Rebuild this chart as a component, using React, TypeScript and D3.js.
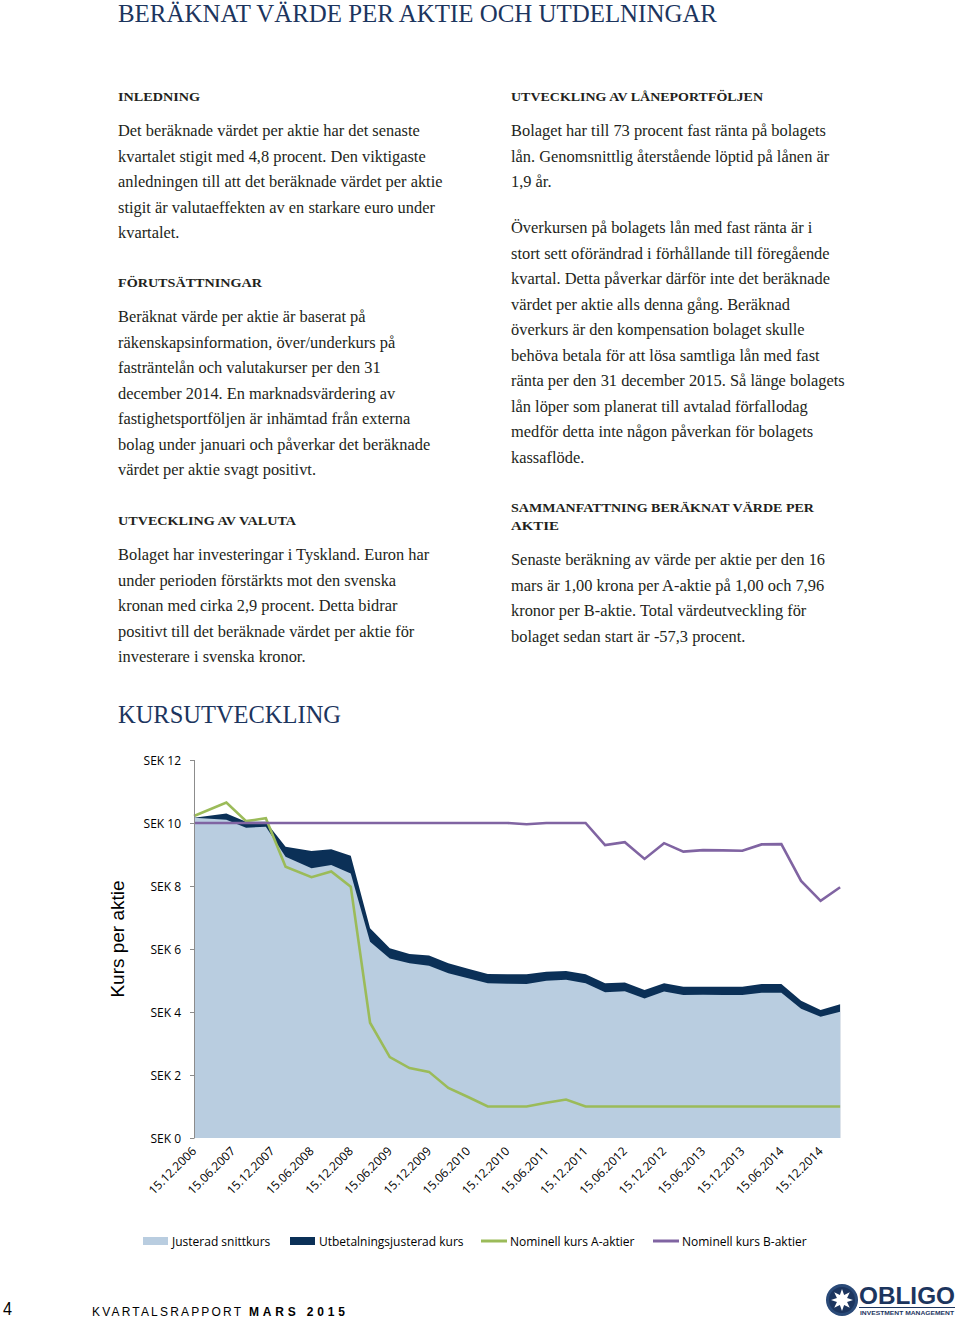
import React from "react";
import * as d3 from "d3";

// ---------- DATA ----------
const pointDates = [
  "2006-12-15", "2007-05-15", "2007-08-15", "2007-11-15", "2008-02-15",
  "2008-06-15", "2008-09-15", "2008-12-15", "2009-03-15", "2009-06-15",
  "2009-09-15", "2009-12-15", "2010-03-15", "2010-06-15", "2010-09-15",
  "2010-12-15", "2011-03-15", "2011-06-15", "2011-09-15", "2011-12-15",
  "2012-03-15", "2012-06-15", "2012-09-15", "2012-12-15", "2013-03-15",
  "2013-06-15", "2013-09-15", "2013-12-15", "2014-03-15", "2014-06-15",
  "2014-09-15", "2014-12-15", "2015-03-16",
];
const justeradSnittkurs = [
  10.17, 10.1, 9.85, 9.88, 8.93, 8.56, 8.67, 8.4, 6.23, 5.7,
  5.55, 5.47, 5.23, 5.07, 4.91, 4.9, 4.89, 4.99, 5.02, 4.91,
  4.63, 4.66, 4.43, 4.65, 4.54, 4.55, 4.54, 4.54, 4.61, 4.61,
  4.1, 3.85, 4.01,
];
const utbetalningsjusteradKurs = [
  10.17, 10.3, 10.04, 10.04, 9.25, 9.11, 9.17, 8.96, 6.66, 6.02,
  5.84, 5.79, 5.55, 5.37, 5.21, 5.2, 5.2, 5.28, 5.3, 5.2,
  4.91, 4.94, 4.7, 4.91, 4.8, 4.8, 4.8, 4.8, 4.89, 4.89,
  4.36, 4.06, 4.25,
];
const nominellA = [
  10.22, 10.65, 10.06, 10.15, 8.61, 8.28, 8.46, 7.98, 3.66, 2.57,
  2.22, 2.1, 1.59, 1.3, 1.0, 1.0, 1.0, 1.12, 1.22, 1.0,
  1.0, 1.0, 1.0, 1.0, 1.0, 1.0, 1.0, 1.0, 1.0, 1.0,
  1.0, 1.0, 1.0,
];
const nominellB = [
  10, 10, 10, 10, 10, 10, 10, 10, 10, 10,
  10, 10, 10, 10, 10, 10, 9.96, 10, 10, 10,
  9.3, 9.39, 8.86, 9.36, 9.09, 9.14, 9.13, 9.12, 9.32, 9.33,
  8.16, 7.53, 7.96,
];
const xTickLabels = [
  "15.12.2006", "15.06.2007", "15.12.2007", "15.06.2008", "15.12.2008",
  "15.06.2009", "15.12.2009", "15.06.2010", "15.12.2010", "15.06.2011",
  "15.12.2011", "15.06.2012", "15.12.2012", "15.06.2013", "15.12.2013",
  "15.06.2014", "15.12.2014",
];
const yTicks = [0, 2, 4, 6, 8, 10, 12];
const legendLabels = [
  "Justerad snittkurs",
  "Utbetalningsjusterad kurs",
  "Nominell kurs A-aktier",
  "Nominell kurs B-aktier",
];

const pageTitle = "BERÄKNAT VÄRDE PER AKTIE OCH UTDELNINGAR";
const chartTitle = "KURSUTVECKLING";
const yAxisTitle = "Kurs per aktie";

const leftColumn = [
  { heading: ["INLEDNING"], hy: 101, hw: [82], py: 136, lines: [
    "Det beräknade värdet per aktie har det senaste",
    "kvartalet stigit med 4,8 procent. Den viktigaste",
    "anledningen till att det beräknade värdet per aktie",
    "stigit är valutaeffekten av en starkare euro under",
    "kvartalet.",
  ] },
  { heading: ["FÖRUTSÄTTNINGAR"], hy: 287, hw: [144], py: 322, lines: [
    "Beräknat värde per aktie är baserat på",
    "räkenskapsinformation, över/underkurs på",
    "fasträntelån och valutakurser per den 31",
    "december 2014. En marknadsvärdering av",
    "fastighetsportföljen är inhämtad från externa",
    "bolag under januari och påverkar det beräknade",
    "värdet per aktie svagt positivt.",
  ] },
  { heading: ["UTVECKLING AV VALUTA"], hy: 525, hw: [178], py: 560, lines: [
    "Bolaget har investeringar i Tyskland. Euron har",
    "under perioden förstärkts mot den svenska",
    "kronan med cirka 2,9 procent. Detta bidrar",
    "positivt till det beräknade värdet per aktie för",
    "investerare i svenska kronor.",
  ] },
];
const rightColumn = [
  { heading: ["UTVECKLING AV LÅNEPORTFÖLJEN"], hy: 101, hw: [252], py: 136, lines: [
    "Bolaget har till 73 procent fast ränta på bolagets",
    "lån. Genomsnittlig återstående löptid på lånen är",
    "1,9 år.",
  ] },
  { heading: [], hy: 0, hw: [], py: 233, lines: [
    "Överkursen på bolagets lån med fast ränta är i",
    "stort sett oförändrad i förhållande till föregående",
    "kvartal. Detta påverkar därför inte det beräknade",
    "värdet per aktie alls denna gång. Beräknad",
    "överkurs är den kompensation bolaget skulle",
    "behöva betala för att lösa samtliga lån med fast",
    "ränta per den 31 december 2015. Så länge bolagets",
    "lån löper som planerat till avtalad förfallodag",
    "medför detta inte någon påverkan för bolagets",
    "kassaflöde.",
  ] },
  { heading: ["SAMMANFATTNING BERÄKNAT VÄRDE PER", "AKTIE"], hy: 512, hw: [303, 48], py: 565, lines: [
    "Senaste beräkning av värde per aktie per den 16",
    "mars är 1,00 krona per A-aktie på 1,00 och 7,96",
    "kronor per B-aktie. Total värdeutveckling för",
    "bolaget sedan start är -57,3 procent.",
  ] },
];

// ---------- STYLE ----------
const C = {
  light: "#b9cde0",
  dark: "#0b3057",
  green: "#9bbb59",
  purple: "#8064a2",
  navy: "#1c355e",
  text: "#231f20",
  axis: "#8c8c8c",
};
const serif = "'Liberation Serif', 'DejaVu Serif', serif";
const sans = "'Open Sans', 'Noto Sans', sans-serif";

const parseDate = d3.utcParse("%Y-%m-%d");
const parseTick = d3.utcParse("%d.%m.%Y");

function TextColumn({ x, blocks }: { x: number; blocks: any[] }) {
  return (
    <g>
      {blocks.map((b, bi) => (
        <g key={bi}>
          {b.heading.map((h: string, hi: number) => (
            <text key={"h" + hi} x={x} y={b.hy + hi * 18} fontFamily={serif} fontWeight="bold"
              fontSize={13.5} fill={C.text} textLength={b.hw[hi]} lengthAdjust="spacingAndGlyphs">
              {h}
            </text>
          ))}
          {b.lines.map((l: string, li: number) => (
            <text key={"l" + li} x={x} y={b.py + li * 25.5} fontFamily={serif} fontSize={16.4} fill={C.text}>
              {l}
            </text>
          ))}
        </g>
      ))}
    </g>
  );
}

export default function App() {
  const W = 960, H = 1318;
  const dates = pointDates.map((d) => parseDate(d) as Date);
  const tickDates = xTickLabels.map((d) => parseTick(d) as Date);

  const x = d3.scaleUtc().domain([tickDates[0], tickDates[tickDates.length - 1]]).range([194, 820.6]);
  const y = d3.scaleLinear().domain([0, 12]).range([1138, 760]);

  const area = (vals: number[]) =>
    d3.area<number>().x((_, i) => x(dates[i])).y0(y(0)).y1((v) => y(v))(vals) || "";
  const line = (vals: number[]) =>
    d3.line<number>().x((_, i) => x(dates[i])).y((v) => y(v))(vals) || "";

  const legendX = [143, 290, 481, 653];
  const legendY = 1241;

  // logo star
  const star = d3.range(16).map((i) => {
    const a = (i * Math.PI) / 8 - Math.PI / 2;
    const r = i % 2 === 0 ? 11 : 5.5;
    return [842 + r * Math.cos(a), 1300 + r * Math.sin(a)];
  });

  return (
    <svg width={W} height={H} style={{ position: "absolute", left: 0, top: 0, background: "#fff" }}>
      <rect width={W} height={H} fill="#fff" />
      {/* page title */}
      <text x={118} y={22} fontFamily={serif} fontSize={26} fill={C.navy} textLength={599} lengthAdjust="spacingAndGlyphs">
        {pageTitle}
      </text>

      <TextColumn x={118} blocks={leftColumn} />
      <TextColumn x={511} blocks={rightColumn} />

      {/* chart title */}
      <text x={118} y={723} fontFamily={serif} fontSize={25} fill={C.navy} textLength={223} lengthAdjust="spacingAndGlyphs">
        {chartTitle}
      </text>

      {/* areas */}
      <path d={area(utbetalningsjusteradKurs)} fill={C.dark} />
      <path d={area(justeradSnittkurs)} fill={C.light} />
      <path d={line(nominellA)} fill="none" stroke={C.green} strokeWidth={2.6} strokeLinejoin="miter" />
      <path d={line(nominellB)} fill="none" stroke={C.purple} strokeWidth={2.6} strokeLinejoin="miter" />

      {/* y axis */}
      <line x1={194.5} x2={194.5} y1={y(12)} y2={y(0)} stroke={C.axis} strokeWidth={1} />
      {yTicks.map((t) => (
        <g key={t}>
          <line x1={190} x2={194.5} y1={y(t) + 0.5} y2={y(t) + 0.5} stroke={C.axis} />
          <text x={181} y={y(t) + 4.5} textAnchor="end" fontFamily={sans} fontSize={12} fill="#000">
            {"SEK " + t}
          </text>
        </g>
      ))}
      <text transform="translate(124,939) rotate(-90)" textAnchor="middle" fontFamily="'Liberation Sans', Arial, sans-serif"
        fontSize={19} fill="#000">
        {yAxisTitle}
      </text>

      {/* x labels */}
      {tickDates.map((d, i) => (
        <text key={i} transform={`translate(${x(d) + 3},${1152}) rotate(-45)`} textAnchor="end"
          fontFamily={sans} fontSize={12} fill="#000">
          {xTickLabels[i]}
        </text>
      ))}

      {/* legend */}
      <rect x={legendX[0]} y={legendY - 4} width={25} height={8} fill={C.light} />
      <rect x={legendX[1]} y={legendY - 4} width={25} height={8} fill={C.dark} />
      <line x1={legendX[2]} x2={legendX[2] + 26} y1={legendY} y2={legendY} stroke={C.green} strokeWidth={3} />
      <line x1={legendX[3]} x2={legendX[3] + 26} y1={legendY} y2={legendY} stroke={C.purple} strokeWidth={3} />
      {legendLabels.map((l, i) => (
        <text key={l} x={legendX[i] + 29} y={legendY + 4.5} fontFamily={sans} fontSize={12} fill="#000">
          {l}
        </text>
      ))}

      {/* footer */}
      <text x={3} y={1315} fontFamily="'Liberation Sans', Arial, sans-serif" fontSize={18} fill="#000"
        textLength={9} lengthAdjust="spacingAndGlyphs">4</text>
      <text x={92} y={1316} fontFamily="'Liberation Sans', Arial, sans-serif" fontSize={12} fill="#000"
        textLength={149} lengthAdjust="spacing">KVARTALSRAPPORT</text>
      <text x={249} y={1316} fontFamily="'Liberation Sans', Arial, sans-serif" fontSize={12} fontWeight="bold" fill="#000"
        textLength={96} lengthAdjust="spacing">MARS 2015</text>

      {/* logo */}
      <circle cx={842} cy={1300} r={16} fill="#2a4a78" />
      <circle cx={842} cy={1300} r={13} fill="#1c355e" />
      <polygon points={star.map((p) => p.join(",")).join(" ")} fill="#fff" />
      <text x={859} y={1304} fontFamily="'Liberation Sans', Arial, sans-serif" fontWeight="bold" fontSize={23}
        fill="#1c355e" textLength={96} lengthAdjust="spacingAndGlyphs">OBLIGO</text>
      <line x1={859} x2={955} y1={1307.5} y2={1307.5} stroke="#1c355e" strokeWidth={1} />
      <text x={860} y={1315} fontFamily="'Liberation Sans', Arial, sans-serif" fontWeight="bold" fontSize={6}
        fill="#1c355e" textLength={94} lengthAdjust="spacingAndGlyphs">INVESTMENT MANAGEMENT</text>
    </svg>
  );
}
